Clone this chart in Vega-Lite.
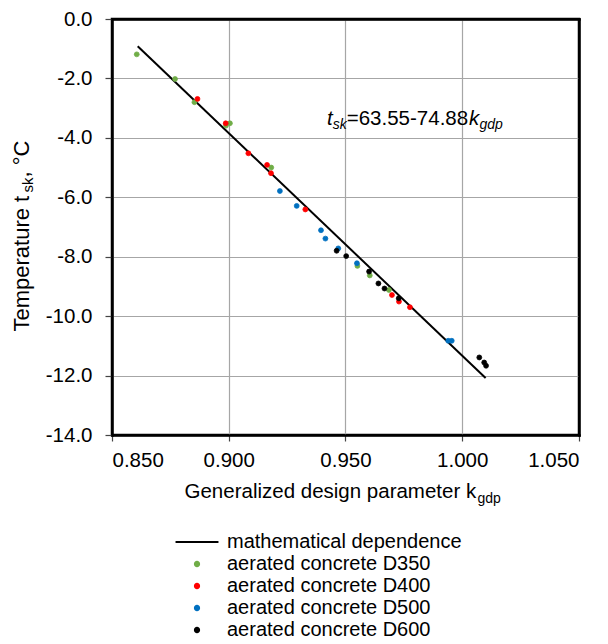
{
  "$schema": "https://vega.github.io/schema/vega-lite/v6.json",
  "width": 467,
  "height": 416,
  "autosize": "none",
  "padding": {"left": 112, "top": 19, "right": 29, "bottom": 209},
  "background": "white",
  "datasets": {
    "fit": [
      {"kgdp": 0.861, "tsk": -0.92},
      {"kgdp": 1.010, "tsk": -12.08}
    ],
    "measured": [
      {"series": "aerated concrete D350", "kgdp": 0.8606, "tsk": -1.19},
      {"series": "aerated concrete D350", "kgdp": 0.8770, "tsk": -2.02},
      {"series": "aerated concrete D350", "kgdp": 0.8853, "tsk": -2.80},
      {"series": "aerated concrete D350", "kgdp": 0.8988, "tsk": -3.59},
      {"series": "aerated concrete D350", "kgdp": 0.9005, "tsk": -3.51},
      {"series": "aerated concrete D350", "kgdp": 0.9182, "tsk": -5.00},
      {"series": "aerated concrete D350", "kgdp": 0.9551, "tsk": -8.31},
      {"series": "aerated concrete D350", "kgdp": 0.9604, "tsk": -8.63},
      {"series": "aerated concrete D350", "kgdp": 0.9686, "tsk": -9.12},
      {"series": "aerated concrete D400", "kgdp": 0.8866, "tsk": -2.69},
      {"series": "aerated concrete D400", "kgdp": 0.8987, "tsk": -3.51},
      {"series": "aerated concrete D400", "kgdp": 0.9084, "tsk": -4.52},
      {"series": "aerated concrete D400", "kgdp": 0.9164, "tsk": -4.91},
      {"series": "aerated concrete D400", "kgdp": 0.9181, "tsk": -5.19},
      {"series": "aerated concrete D400", "kgdp": 0.9328, "tsk": -6.41},
      {"series": "aerated concrete D400", "kgdp": 0.9699, "tsk": -9.29},
      {"series": "aerated concrete D400", "kgdp": 0.9729, "tsk": -9.51},
      {"series": "aerated concrete D400", "kgdp": 0.9776, "tsk": -9.70},
      {"series": "aerated concrete D500", "kgdp": 0.9219, "tsk": -5.79},
      {"series": "aerated concrete D500", "kgdp": 0.9291, "tsk": -6.29},
      {"series": "aerated concrete D500", "kgdp": 0.9395, "tsk": -7.11},
      {"series": "aerated concrete D500", "kgdp": 0.9414, "tsk": -7.39},
      {"series": "aerated concrete D500", "kgdp": 0.9469, "tsk": -7.72},
      {"series": "aerated concrete D500", "kgdp": 0.9549, "tsk": -8.22},
      {"series": "aerated concrete D500", "kgdp": 0.9940, "tsk": -10.83},
      {"series": "aerated concrete D500", "kgdp": 0.9955, "tsk": -10.83},
      {"series": "aerated concrete D600", "kgdp": 0.9462, "tsk": -7.80},
      {"series": "aerated concrete D600", "kgdp": 0.9503, "tsk": -7.98},
      {"series": "aerated concrete D600", "kgdp": 0.9601, "tsk": -8.50},
      {"series": "aerated concrete D600", "kgdp": 0.9641, "tsk": -8.90},
      {"series": "aerated concrete D600", "kgdp": 0.9667, "tsk": -9.07},
      {"series": "aerated concrete D600", "kgdp": 0.9728, "tsk": -9.40},
      {"series": "aerated concrete D600", "kgdp": 1.0073, "tsk": -11.39},
      {"series": "aerated concrete D600", "kgdp": 1.0094, "tsk": -11.56},
      {"series": "aerated concrete D600", "kgdp": 1.0102, "tsk": -11.67}
    ],
    "eq_italic": [
      {"txt": "t", "kgdp": 0.94213, "tsk": -3.567},
      {"txt": "k", "kgdp": 1.00287, "tsk": -3.567}
    ],
    "eq_sub": [
      {"txt": "sk", "kgdp": 0.94453, "tsk": -3.702},
      {"txt": "gdp", "kgdp": 1.00737, "tsk": -3.702}
    ],
    "eq_body": [
      {"txt": "=63.55-74.88", "kgdp": 0.95053, "tsk": -3.567}
    ]
  },
  "resolve": {"axis": {"x": "independent", "y": "independent"}},
  "layer": [
    {
      "data": {"name": "fit"},
      "mark": {"type": "line", "color": "#000000", "strokeWidth": 2},
      "encoding": {
        "x": {
          "field": "kgdp", "type": "quantitative",
          "scale": {"domain": [0.85, 1.05], "nice": false, "zero": false},
          "axis": {
            "orient": "bottom",
            "values": [0.85, 0.9, 0.95, 1.0, 1.05],
            "format": ".3f",
            "domain": true,
            "domainColor": "#000000",
            "domainWidth": 2.5,
            "domainCap": "square",
            "grid": true,
            "gridColor": {"condition": {"test": "datum.value < 0.851 || datum.value > 1.049", "value": "transparent"}, "value": "#a6a6a6"},
            "gridWidth": 1.2,
            "ticks": true,
            "tickSize": 6,
            "tickColor": "#444444",
            "tickWidth": 1.2,
            "labelPadding": 9,
            "labelFontSize": 20.5,
            "labelColor": "#000000",
            "title": "Generalized design parameter k",
            "titleFontSize": 20.5,
            "titleFontWeight": "normal",
            "titleColor": "#000000",
            "titleAlign": "left",
            "titleBaseline": "alphabetic",
            "titleX": 72,
            "titleY": 62
          }
        },
        "y": {
          "field": "tsk", "type": "quantitative",
          "scale": {"domain": [-14, 0], "nice": false, "zero": false},
          "axis": {
            "orient": "left",
            "values": [-14, -12, -10, -8, -6, -4, -2, 0],
            "format": ".1f",
            "domain": true,
            "domainColor": "#000000",
            "domainWidth": 2.5,
            "domainCap": "square",
            "grid": true,
            "gridColor": {"condition": {"test": "datum.value < -13.99 || datum.value > -0.01", "value": "transparent"}, "value": "#a6a6a6"},
            "gridWidth": 1.2,
            "ticks": true,
            "tickSize": 7,
            "tickColor": "#444444",
            "tickWidth": 1.2,
            "labelPadding": 13,
            "labelFontSize": 20.5,
            "labelColor": "#000000",
            "title": "Temperature t",
            "titleFontSize": 22,
            "titleFontWeight": "normal",
            "titleColor": "#000000",
            "titleAngle": 270,
            "titleAlign": "left",
            "titleBaseline": "alphabetic",
            "titleX": -84,
            "titleY": 312
          }
        }
      }
    },
    {
      "data": {"name": "measured"},
      "mark": {"type": "point", "filled": true, "size": 24, "strokeWidth": 0.8, "opacity": 1},
      "encoding": {
        "x": {
          "field": "kgdp", "type": "quantitative",
          "axis": {
            "orient": "bottom", "domain": false, "grid": false, "ticks": false, "labels": false,
            "title": "gdp", "titleFontSize": 14, "titleFontWeight": "normal", "titleColor": "#000000",
            "titleAlign": "left", "titleBaseline": "alphabetic", "titleX": 365, "titleY": 67
          }
        },
        "y": {
          "field": "tsk", "type": "quantitative",
          "axis": {
            "orient": "left", "domain": false, "grid": false, "ticks": false, "labels": false,
            "title": "sk", "titleFontSize": 15, "titleFontWeight": "normal", "titleColor": "#000000",
            "titleAngle": 270, "titleAlign": "left", "titleBaseline": "alphabetic", "titleX": -80, "titleY": 173
          }
        },
        "fill": {
          "field": "series", "type": "nominal",
          "scale": {
            "domain": ["mathematical dependence", "aerated concrete D350", "aerated concrete D400", "aerated concrete D500", "aerated concrete D600"],
            "range": ["#000000", "#70AD47", "#FF0000", "#0070C0", "#000000"]
          },
          "legend": {
            "title": null, "orient": "none", "legendX": 75, "legendY": 513, "direction": "vertical",
            "labelFontSize": 20, "labelColor": "#000000", "labelOffset": 20, "labelLimit": 400,
            "symbolSize": 20, "symbolStrokeWidth": 1.8, "rowPadding": 2
          }
        },
        "stroke": {
          "field": "series", "type": "nominal",
          "scale": {
            "domain": ["mathematical dependence", "aerated concrete D350", "aerated concrete D400", "aerated concrete D500", "aerated concrete D600"],
            "range": ["#000000", "#70AD47", "#FF0000", "#0070C0", "#000000"]
          },
          "legend": {
            "title": null, "orient": "none", "legendX": 75, "legendY": 513, "direction": "vertical",
            "labelFontSize": 20, "labelColor": "#000000", "labelOffset": 20, "labelLimit": 400,
            "symbolSize": 20, "symbolStrokeWidth": 1.8, "rowPadding": 2
          }
        },
        "shape": {
          "field": "series", "type": "nominal",
          "scale": {
            "domain": ["mathematical dependence", "aerated concrete D350", "aerated concrete D400", "aerated concrete D500", "aerated concrete D600"],
            "range": ["M-9.6,0H9.6", "circle", "circle", "circle", "circle"]
          },
          "legend": {
            "title": null, "orient": "none", "legendX": 75, "legendY": 513, "direction": "vertical",
            "labelFontSize": 20, "labelColor": "#000000", "labelOffset": 20, "labelLimit": 400,
            "symbolSize": 20, "symbolStrokeWidth": 1.8, "rowPadding": 2
          }
        }
      }
    },
    {
      "data": {"name": "eq_body"},
      "mark": {"type": "text", "align": "left", "baseline": "alphabetic", "fontSize": 20.5, "color": "#000000"},
      "encoding": {
        "x": {"field": "kgdp", "type": "quantitative", "axis": null},
        "y": {
          "field": "tsk", "type": "quantitative",
          "axis": {
            "orient": "left", "domain": false, "grid": false, "ticks": false, "labels": false,
            "title": ", °C", "titleFontSize": 22, "titleFontWeight": "normal", "titleColor": "#000000",
            "titleAngle": 270, "titleAlign": "left", "titleBaseline": "alphabetic", "titleX": -84, "titleY": 158
          }
        },
        "text": {"field": "txt"}
      }
    },
    {
      "data": {"name": "eq_italic"},
      "mark": {"type": "text", "align": "left", "baseline": "alphabetic", "fontSize": 20.5, "fontStyle": "italic", "color": "#000000"},
      "encoding": {
        "x": {
          "field": "kgdp", "type": "quantitative",
          "axis": {"orient": "top", "labels": false, "ticks": false, "grid": false, "title": null,
                   "domain": true, "domainColor": "#000000", "domainWidth": 2.5, "domainCap": "square"}
        },
        "y": {"field": "tsk", "type": "quantitative", "axis": null},
        "text": {"field": "txt"}
      }
    },
    {
      "data": {"name": "eq_sub"},
      "mark": {"type": "text", "align": "left", "baseline": "alphabetic", "fontSize": 14, "fontStyle": "italic", "color": "#000000"},
      "encoding": {
        "x": {"field": "kgdp", "type": "quantitative", "axis": null},
        "y": {
          "field": "tsk", "type": "quantitative",
          "axis": {"orient": "right", "labels": false, "ticks": false, "grid": false, "title": null,
                   "domain": true, "domainColor": "#000000", "domainWidth": 2.5, "domainCap": "square"}
        },
        "text": {"field": "txt"}
      }
    }
  ],
  "config": {
    "font": "Liberation Sans",
    "locale": {
      "number": {"decimal": ".", "thousands": ",", "grouping": [3], "currency": ["$", ""], "minus": "-"}
    },
    "view": {"stroke": "#000000", "strokeWidth": 2.5}
  }
}
